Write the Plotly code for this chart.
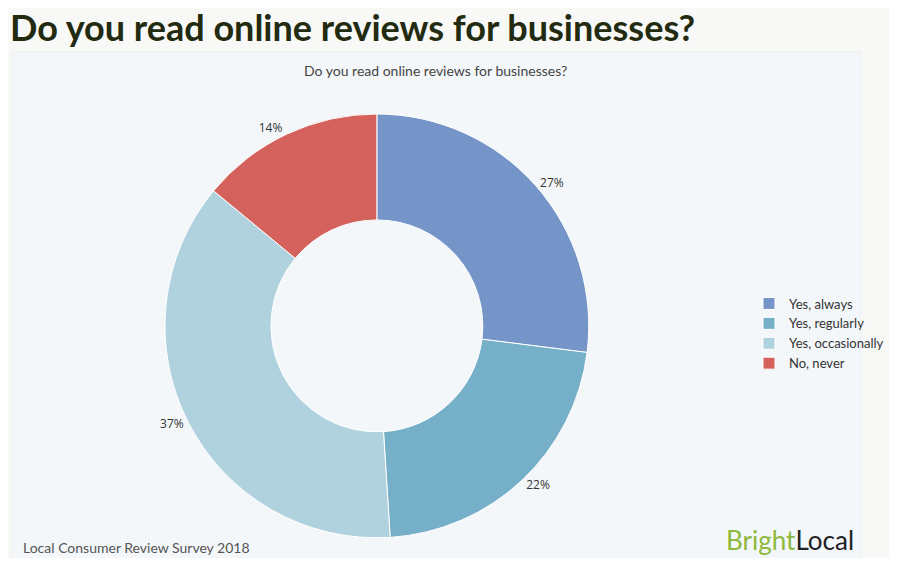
import plotly.graph_objects as go

labels = ["Yes, always", "Yes, regularly", "Yes, occasionally", "No, never"]
values = [27, 22, 37, 14]
colors = ["#7594c8", "#75afc8", "#b0d1de", "#d4615b"]

fig = go.Figure(go.Pie(
    labels=labels, values=values, hole=0.5, sort=False, direction="clockwise",
    rotation=0, marker=dict(colors=colors, line=dict(color="white", width=1)),
    texttemplate="%{value}%", textposition="outside",
    textfont=dict(family="Open Sans", size=12, color="#333"),
    domain=dict(x=[0.180, 0.666], y=[0.033, 0.811]),
))

# the page body adds 8px margin, so the figure is sized to fit the window
fig.update_layout(
    width=881, height=550, margin=dict(l=0, r=0, t=0, b=0),
    paper_bgcolor="#f8f8f6", font=dict(family="Open Sans", color="#333"),
    legend=dict(x=0.85, y=0.49, yanchor="top", font=dict(size=13, color="#333", family="Lato"),
                bgcolor="rgba(0,0,0,0)"),
    shapes=[dict(type="rect", xref="paper", yref="paper", x0=0.0045, x1=0.978, y0=-0.1, y1=0.92,
                 fillcolor="#f4f7fa", line=dict(color="#eceff2", width=1), layer="below")],
    annotations=[
        dict(text="<b>Do you read online reviews for businesses?</b>", xref="paper", yref="paper",
             x=0.0, y=1.01, xanchor="left", yanchor="top", showarrow=False,
             font=dict(size=36, color="#222a10", family="Lato")),
        dict(text="Do you read online reviews for businesses?", xref="paper", yref="paper",
             x=0.49, y=0.905, xanchor="center", yanchor="top", showarrow=False,
             font=dict(size=14, color="#444", family="Lato")),
        dict(text="Local Consumer Review Survey 2018", xref="paper", yref="paper",
             x=0.015, y=0.0, xanchor="left", yanchor="bottom", showarrow=False,
             font=dict(size=14, color="#555", family="Lato")),
        dict(text="<span style='color:#8db83a'>Bright</span>Local", xref="paper", yref="paper",
             x=0.973, y=0.0, xanchor="right", yanchor="bottom", showarrow=False,
             font=dict(size=26, color="#222", family="Lato")),
    ],
)

fig.write_html("out.html")
